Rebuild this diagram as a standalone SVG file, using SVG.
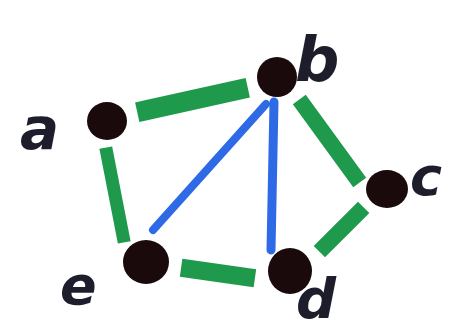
<svg xmlns="http://www.w3.org/2000/svg" width="450" height="335" viewBox="0 0 450 335">
<style>
.g{stroke:#1f9a4c;fill:none;stroke-linecap:square;stroke-linejoin:round}
.bl{stroke:#2f6ae6;fill:none;stroke-linecap:round}
.n{fill:#1a0a0c}
.lbl{font-family:"DejaVu Sans","Liberation Sans",sans-serif;font-style:italic;font-weight:bold;fill:#1d1d2c}
</style>
<rect width="450" height="335" fill="#ffffff"/>
<g id="edges">
<path class="g" d="M147,110 L238,90" stroke-width="20"/>
<path class="g" d="M107,154 L123,236" stroke-width="13"/>
<path class="g" d="M304,106 L355,176" stroke-width="16"/>
<path class="g" d="M358,213 L325,246" stroke-width="16"/>
<path class="g" d="M190,269 L246,277" stroke-width="18"/>
<path class="bl" d="M266,104 L153,230" stroke-width="8"/>
<path class="bl" d="M274,102 L271,250" stroke-width="9"/>
</g>
<g id="node-a"><ellipse class="n" cx="107" cy="121" rx="20" ry="19"/><text class="lbl" x="20" y="149" font-size="58">a</text></g>
<g id="node-b"><ellipse class="n" cx="277" cy="77" rx="20" ry="20"/><text class="lbl" x="295" y="81" font-size="62">b</text></g>
<g id="node-c"><ellipse class="n" cx="387" cy="189" rx="21" ry="19"/><text class="lbl" x="410" y="195" font-size="54">c</text></g>
<g id="node-e"><ellipse class="n" cx="146" cy="262" rx="23" ry="22"/><text class="lbl" x="60" y="304" font-size="54">e</text></g>
<g id="node-d"><ellipse class="n" cx="290" cy="271" rx="22" ry="23"/><text class="lbl" x="296" y="318" font-size="56">d</text></g>
</svg>
